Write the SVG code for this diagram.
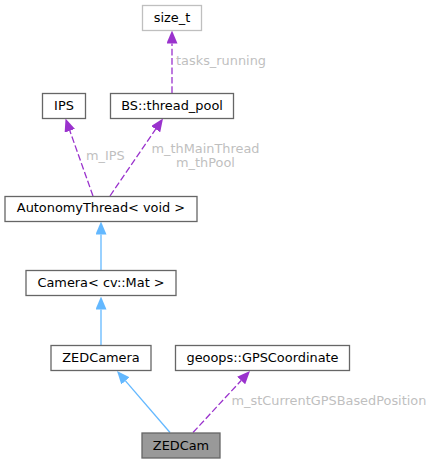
<svg xmlns="http://www.w3.org/2000/svg" width="435" height="464" viewBox="0 0 435 464">
<style>
.box{fill:#ffffff;stroke:#666666;stroke-width:1.3}
.gray{stroke:#bfbfbf}
.main{fill:#999999}
.t{font-family:"DejaVu Sans",sans-serif;font-size:12.9px;fill:#000000;text-anchor:middle}
.lbl{font-family:"DejaVu Sans",sans-serif;font-size:12.9px;fill:#bfbfbf}
.inh{stroke:#63b8ff;stroke-width:1.3;fill:none}
.use{stroke:#9a32cd;stroke-width:1.3;fill:none;stroke-dasharray:6.7,2.7}
</style>
<defs>
<marker id="ab" viewBox="0 0 13 11" refX="0" refY="5.5" markerWidth="13" markerHeight="11" markerUnits="userSpaceOnUse" orient="auto">
<path d="M0,0 L13,5.5 L0,11 z" fill="#63b8ff"/>
</marker>
<marker id="ap" viewBox="0 0 13 11" refX="0" refY="5.5" markerWidth="13" markerHeight="11" markerUnits="userSpaceOnUse" orient="auto">
<path d="M0,0 L13,5.5 L0,11 z" fill="#9a32cd"/>
</marker>
</defs>
<g id="edges">
<line class="use" x1="172" y1="93" x2="172" y2="43.5" marker-end="url(#ap)"/>
<line class="use" x1="93" y1="196" x2="69.85" y2="130.76" marker-end="url(#ap)"/>
<line class="use" x1="110" y1="196" x2="155.66" y2="129.23" marker-end="url(#ap)"/>
<line class="inh" x1="101" y1="270" x2="101" y2="234.5" marker-end="url(#ab)"/>
<line class="inh" x1="101" y1="345" x2="101" y2="309.5" marker-end="url(#ab)"/>
<line class="inh" x1="170" y1="432.5" x2="125.49" y2="380.85" marker-end="url(#ab)"/>
<line class="use" x1="193" y1="432.5" x2="241.16" y2="380.54" marker-end="url(#ap)"/>
<text class="lbl" x="176" y="65">tasks_running</text>
<text class="lbl" x="86" y="160">m_IPS</text>
<text class="lbl" x="205.5" y="152.5" text-anchor="middle">m_thMainThread</text>
<text class="lbl" x="205.5" y="167" text-anchor="middle">m_thPool</text>
<text class="lbl" x="231.5" y="405">m_stCurrentGPSBasedPosition</text>
</g>
<g id="size_t"><rect class="box gray" x="142.5" y="5.5" width="59" height="25"/><text class="t" x="172" y="22">size_t</text></g>
<g id="IPS"><rect class="box" x="42.5" y="93.5" width="43" height="25"/><text class="t" x="64" y="110">IPS</text></g>
<g id="thread_pool"><rect class="box" x="110.5" y="93.5" width="123" height="25"/><text class="t" x="172" y="110">BS::thread_pool</text></g>
<g id="AutonomyThread"><rect class="box" x="5" y="196.5" width="192" height="25"/><text class="t" x="101" y="212">AutonomyThread&lt; void &gt;</text></g>
<g id="Camera"><rect class="box" x="26" y="270.5" width="150" height="25"/><text class="t" x="101" y="287">Camera&lt; cv::Mat &gt;</text></g>
<g id="ZEDCamera"><rect class="box" x="51" y="345.5" width="100" height="25"/><text class="t" x="101" y="361.5">ZEDCamera</text></g>
<g id="GPSCoordinate"><rect class="box" x="175.5" y="345.5" width="174" height="25"/><text class="t" x="262.5" y="361.5">geoops::GPSCoordinate</text></g>
<g id="ZEDCam"><rect class="box main" x="142" y="433" width="78" height="25"/><text class="t" x="181" y="450">ZEDCam</text></g>
</svg>
